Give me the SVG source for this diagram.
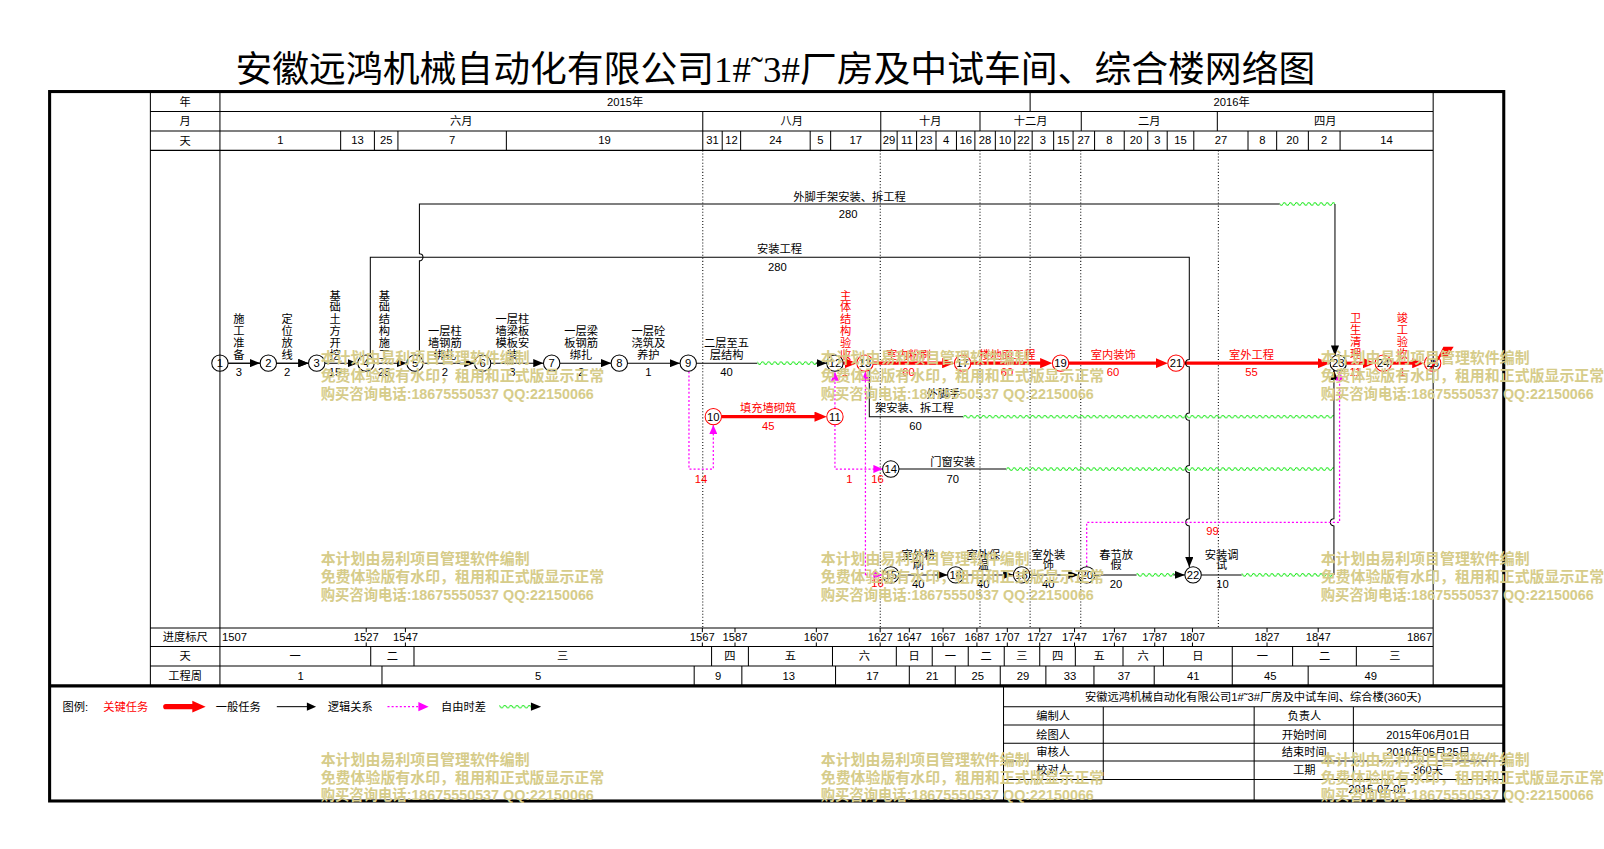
<svg xmlns="http://www.w3.org/2000/svg" width="1604" height="849" viewBox="0 0 1604 849">
<defs>
<style>
text{font-family:"Liberation Sans","Noto Sans CJK SC",sans-serif;font-size:11px;fill:#000;text-anchor:middle}
.s{font-size:10.5px}
.r{fill:#f00}
.st{text-anchor:start}
.ttl{font-family:"Liberation Serif","Noto Sans CJK SC",serif;font-size:36px}
.wm{font-size:14.6px;font-weight:bold;fill:#d6cc8a;text-anchor:start}
.g{stroke:#000;stroke-width:1;fill:none}
.fr{stroke:#000;stroke-width:3;fill:none}
.dt{stroke:#000;stroke-width:1;stroke-dasharray:1 2;fill:none}
.bk{stroke:#000;stroke-width:1;fill:none}
.cr{stroke:#f00;stroke-width:3;fill:none}
.ff{stroke:#f0f;stroke-width:1.2;stroke-dasharray:2 2;fill:none}
.nb{fill:none;stroke:#000;stroke-width:1}
.nr{fill:none;stroke:#f00;stroke-width:1}
.wv{fill:url(#wv)}
</style>
<marker id="ab" viewBox="0 0 10 8" refX="10" refY="4" markerWidth="10" markerHeight="8" markerUnits="userSpaceOnUse" orient="auto"><path d="M0,0L10,4L0,8z" fill="#000"/></marker>
<marker id="ar" viewBox="0 0 12 10" refX="6" refY="5" markerWidth="12" markerHeight="10" markerUnits="userSpaceOnUse" orient="auto"><path d="M0,0L12,5L0,10z" fill="#f00"/></marker>
<marker id="am" viewBox="0 0 9 8" refX="9" refY="4" markerWidth="9" markerHeight="8" markerUnits="userSpaceOnUse" orient="auto"><path d="M0,0L9,4L0,8z" fill="#f0f"/></marker>
<pattern id="wv" patternUnits="userSpaceOnUse" x="0" y="-2.5" width="6" height="5"><path d="M0,2.5Q1.5,0 3,2.5T6,2.5" fill="none" stroke="#00e600" stroke-width="1"/></pattern>
</defs>
<rect width="1604" height="849" fill="#fff"/>
<g transform="scale(1.02296)">
<text class="ttl" x="758" y="80">安徽远鸿机械自动化有限公司1#˜3#厂房及中试车间、综合楼网络图</text>

<g id="timescale">
<path class="g" d="M147,109H1401M147,128H1401M147,147H1401M147,614H1401M147,632H1401M147,651H1401M147,91V670M215,91V670M1401,91V670M1007,91V109M687,109V128M861,109V128M958,109V128M1057,109V128M1190,109V128"/>
<path class="g" d="M333,128V147M366,128V147M389,128V147M495,128V147M687,128V147M706,128V147M724,128V147M792,128V147M812,128V147M861,128V147M877,128V147M896,128V147M915,128V147M935,128V147M953,128V147M973,128V147M992,128V147M1009,128V147M1030,128V147M1049,128V147M1070,128V147M1099,128V147M1122,128V147M1141,128V147M1167,128V147M1220,128V147M1248,128V147M1279,128V147M1310,128V147"/>
<path class="g" d="M362.4,632V651M404.7,632V651M695.6,632V651M731.6,632V651M813.8,632V651M876.2,632V651M911.3,632V651M946.5,632V651M981.7,632V651M1016.4,632V651M1051.2,632V651M1097.8,632V651M1137.3,632V651M1204.6,632V651M1263.6,632V651M1325.9,632V651"/>
<path class="g" d="M373.4,651V670M678.6,651V670M725.2,651V670M816.8,651V670M888.9,651V670M933.8,651V670M977.8,651V670M1022.4,651V670M1069.4,651V670M1128.3,651V670M1204.6,651V670M1278.8,651V670"/>
<path class="g" d="M358,614v4M358,628v4M396.3,614v4M396.3,628v4M686.6,614v4M686.6,628v4M718.5,614v4M718.5,628v4M798,614v4M798,628v4M860.4,614v4M860.4,628v4M888.9,614v4M888.9,628v4M921.9,614v4M921.9,628v4M955,614v4M955,628v4M984.7,614v4M984.7,628v4M1016.4,614v4M1016.4,628v4M1050.4,614v4M1050.4,628v4M1089.4,614v4M1089.4,628v4M1128.8,614v4M1128.8,628v4M1165.7,614v4M1165.7,628v4M1238.6,614v4M1238.6,628v4M1288.6,614v4M1288.6,628v4"/>
<path class="dt" d="M687,147V614M860.5,147V614M958,147V614M1007,147V614M1056.5,147V614M1191,147V614"/>
<g class="s">
<text x="181" y="104">年</text><text x="181" y="122.5">月</text><text x="181" y="141.5">天</text>
<text x="611" y="104">2015年</text><text x="1204" y="104">2016年</text>
<text x="451" y="122.5">六月</text><text x="774" y="122.5">八月</text><text x="909.5" y="122.5">十月</text><text x="1007.5" y="122.5">十二月</text><text x="1123.5" y="122.5">二月</text><text x="1295.5" y="122.5">四月</text>
<text x="274" y="141">1</text><text x="349.5" y="141">13</text><text x="377.5" y="141">25</text><text x="442" y="141">7</text><text x="591" y="141">19</text><text x="696.5" y="141">31</text><text x="715" y="141">12</text><text x="758" y="141">24</text><text x="802" y="141">5</text><text x="836.5" y="141">17</text><text x="869" y="141">29</text><text x="886.5" y="141">11</text><text x="905.5" y="141">23</text><text x="925" y="141">4</text><text x="944" y="141">16</text><text x="963" y="141">28</text><text x="982.5" y="141">10</text><text x="1000.5" y="141">22</text><text x="1019.5" y="141">3</text><text x="1039.5" y="141">15</text><text x="1059.5" y="141">27</text><text x="1084.5" y="141">8</text><text x="1110.5" y="141">20</text><text x="1131.5" y="141">3</text><text x="1154" y="141">15</text><text x="1193.5" y="141">27</text><text x="1234" y="141">8</text><text x="1263.5" y="141">20</text><text x="1294.5" y="141">2</text><text x="1355.5" y="141">14</text>
<text x="181" y="627">进度标尺</text><text x="181" y="645.5">天</text><text x="181" y="664.5">工程周</text>
<text class="st" x="217" y="626.5">1507</text><text x="358" y="626.5">1527</text><text x="396.3" y="626.5">1547</text><text x="686.6" y="626.5">1567</text><text x="718.5" y="626.5">1587</text><text x="798" y="626.5">1607</text><text x="860.4" y="626.5">1627</text><text x="888.9" y="626.5">1647</text><text x="921.9" y="626.5">1667</text><text x="955" y="626.5">1687</text><text x="984.7" y="626.5">1707</text><text x="1016.4" y="626.5">1727</text><text x="1050.4" y="626.5">1747</text><text x="1089.4" y="626.5">1767</text><text x="1128.8" y="626.5">1787</text><text x="1165.7" y="626.5">1807</text><text x="1238.6" y="626.5">1827</text><text x="1288.6" y="626.5">1847</text><text x="1400" y="626.5" style="text-anchor:end">1867</text>
<text x="288.5" y="645.5">一</text><text x="383.5" y="645.5">二</text><text x="550" y="645.5">三</text><text x="713.6" y="645.5">四</text><text x="772.7" y="645.5">五</text><text x="845" y="645.5">六</text><text x="893.7" y="645.5">日</text><text x="929" y="645.5">一</text><text x="964" y="645.5">二</text><text x="999" y="645.5">三</text><text x="1033.8" y="645.5">四</text><text x="1074.5" y="645.5">五</text><text x="1117.5" y="645.5">六</text><text x="1171" y="645.5">日</text><text x="1234" y="645.5">一</text><text x="1294.8" y="645.5">二</text><text x="1363.5" y="645.5">三</text>
<text x="294" y="664.5">1</text><text x="526" y="664.5">5</text><text x="702" y="664.5">9</text><text x="771" y="664.5">13</text><text x="853" y="664.5">17</text><text x="911.4" y="664.5">21</text><text x="955.8" y="664.5">25</text><text x="1000" y="664.5">29</text><text x="1046" y="664.5">33</text><text x="1098.8" y="664.5">37</text><text x="1166.5" y="664.5">41</text><text x="1241.7" y="664.5">45</text><text x="1340" y="664.5">49</text>
</g>
</g>

<g id="frame">
<rect class="fr" x="48.5" y="89.5" width="1421.5" height="693.5"/>
<path class="fr" d="M48.5,670.5H1470"/>
</g>

<g id="connectors">
<path class="bk" marker-end="url(#ab)" d="M223,355H254.3M270.3,355H301.6"/>
<path class="bk" marker-end="url(#ab)" d="M223,355H254.3"/>
<path class="bk" marker-end="url(#ab)" d="M270.3,355H301.6"/>
<path class="bk" marker-end="url(#ab)" d="M317.6,355H349.8"/>
<path class="bk" marker-end="url(#ab)" d="M365.8,355H397.7"/>
<path class="bk" marker-end="url(#ab)" d="M413.7,355H463.8"/>
<path class="bk" marker-end="url(#ab)" d="M479.8,355H531.3"/>
<path class="bk" marker-end="url(#ab)" d="M547.3,355H597.4"/>
<path class="bk" marker-end="url(#ab)" d="M613.4,355H664.8"/>
<path class="bk" d="M680.8,355H740.3"/>
<g transform="translate(0,355)"><rect class="wv" x="740.3" y="-2.5" width="58" height="5"/></g>
<path class="bk" marker-end="url(#ab)" d="M797.5,355H808.2"/>
<path class="cr" marker-end="url(#ar)" d="M824.2,355H831.6"/>
<path class="cr" marker-end="url(#ar)" d="M853.6,355H927"/>
<path class="cr" marker-end="url(#ar)" d="M949,355H1022.8"/>
<path class="cr" marker-end="url(#ar)" d="M1044.8,355H1135.6"/>
<path class="cr" marker-end="url(#ar)" d="M1157.6,355H1294.2"/>
<path class="cr" marker-end="url(#ar)" d="M1316.2,355H1338.2"/>
<path class="cr" marker-end="url(#ar)" d="M1360.2,355H1386.5"/>
<path class="cr" marker-end="url(#ar)" d="M705.3,407.3H802.2"/>
<path class="bk" marker-end="url(#ab)" d="M362,348.2V251.5H1162.6V351.5A3.5,3.5 0 0 0 1162.6,358.5V403.8A3.5,3.5 0 0 0 1162.6,410.8V455A3.5,3.5 0 0 0 1162.6,462V507.1A3.5,3.5 0 0 0 1162.6,514.1V554.5"/>
<path class="bk" d="M410,348.3V255A3.5,3.5 0 0 0 410,248V199.4H1251"/>
<g transform="translate(0,199.4)"><rect class="wv" x="1251" y="-2.5" width="54" height="5"/></g>
<path class="bk" marker-end="url(#ab)" d="M1305,199.4V347.7"/>
<path class="bk" d="M849.8,361.8V407.3H941.5"/>
<g transform="translate(0,407.3)"><rect class="wv" x="941.5" y="-2.5" width="362.5" height="5"/></g>
<path class="bk" d="M878.8,458.5H983.7"/>
<g transform="translate(0,458.5)"><rect class="wv" x="983.7" y="-2.5" width="320.3" height="5"/></g>
<path class="bk" marker-end="url(#ab)" d="M878.8,562H926.3"/>
<path class="bk" marker-end="url(#ab)" d="M942.3,562H990.7"/>
<path class="bk" marker-end="url(#ab)" d="M1006.7,562H1054.3"/>
<path class="bk" d="M1070.3,562H1111"/>
<g transform="translate(0,562)"><rect class="wv" x="1111" y="-2.5" width="37" height="5"/></g>
<path class="bk" marker-end="url(#ab)" d="M1147,562H1158.3"/>
<path class="bk" d="M1174.3,562H1213.8"/>
<g transform="translate(0,562)"><rect class="wv" x="1213.8" y="-2.5" width="90.2" height="5"/></g>
<path class="bk" marker-end="url(#ab)" d="M1304,562V514.1A3.5,3.5 0 0 1 1304,507.1V361.8"/>
<path class="ff" marker-end="url(#am)" d="M673.5,363V458.5H697.3V415.5"/>
<path class="ff" marker-end="url(#am)" d="M816.2,399.3V363.2"/>
<path class="ff" marker-end="url(#am)" d="M816.2,415.3V458.5H862.8"/>
<path class="ff" marker-end="url(#am)" d="M846,562V363.2"/>
<path class="ff" marker-end="url(#am)" d="M846,562H862.8"/>
<path class="ff" marker-end="url(#am)" d="M1062.3,554V510.6H1309.5V363"/>
<path fill="#f00" d="M1406,348.7L1411,339H1421L1415,348.7z"/>
<path stroke="#f00" stroke-width="2" d="M1398,361L1410,345"/>
</g>

<g id="nodes" class="s">
<g id="node-1"><circle class="nb" cx="215" cy="355" r="8"/><text x="215" y="358.8">1</text></g>
<g id="node-2"><circle class="nb" cx="262.3" cy="355" r="8"/><text x="262.3" y="358.8">2</text></g>
<g id="node-3"><circle class="nb" cx="309.6" cy="355" r="8"/><text x="309.6" y="358.8">3</text></g>
<g id="node-4"><circle class="nb" cx="357.8" cy="355" r="8"/><text x="357.8" y="358.8">4</text></g>
<g id="node-5"><circle class="nb" cx="405.7" cy="355" r="8"/><text x="405.7" y="358.8">5</text></g>
<g id="node-6"><circle class="nb" cx="471.8" cy="355" r="8"/><text x="471.8" y="358.8">6</text></g>
<g id="node-7"><circle class="nb" cx="539.3" cy="355" r="8"/><text x="539.3" y="358.8">7</text></g>
<g id="node-8"><circle class="nb" cx="605.4" cy="355" r="8"/><text x="605.4" y="358.8">8</text></g>
<g id="node-9"><circle class="nb" cx="672.8" cy="355" r="8"/><text x="672.8" y="358.8">9</text></g>
<g id="node-10"><circle class="nr" cx="697.3" cy="407.3" r="8"/><text x="697.3" y="411.1">10</text></g>
<g id="node-11"><circle class="nr" cx="816.2" cy="407.3" r="8"/><text x="816.2" y="411.1">11</text></g>
<g id="node-12"><circle class="nb" cx="816.2" cy="355" r="8"/><text x="816.2" y="358.8">12</text></g>
<g id="node-13"><circle class="nr" cx="845.6" cy="355" r="8"/><text x="845.6" y="358.8">13</text></g>
<g id="node-14"><circle class="nb" cx="870.8" cy="458.5" r="8"/><text x="870.8" y="462.3">14</text></g>
<g id="node-15"><circle class="nb" cx="870.8" cy="562" r="8"/><text x="870.8" y="565.8">15</text></g>
<g id="node-16"><circle class="nb" cx="934.3" cy="562" r="8"/><text x="934.3" y="565.8">16</text></g>
<g id="node-17"><circle class="nr" cx="941" cy="355" r="8"/><text x="941" y="358.8">17</text></g>
<g id="node-18"><circle class="nb" cx="998.7" cy="562" r="8"/><text x="998.7" y="565.8">18</text></g>
<g id="node-19"><circle class="nr" cx="1036.8" cy="355" r="8"/><text x="1036.8" y="358.8">19</text></g>
<g id="node-20"><circle class="nb" cx="1062.3" cy="562" r="8"/><text x="1062.3" y="565.8">20</text></g>
<g id="node-21"><circle class="nr" cx="1149.6" cy="355" r="8"/><text x="1149.6" y="358.8">21</text></g>
<g id="node-22"><circle class="nb" cx="1166.3" cy="562" r="8"/><text x="1166.3" y="565.8">22</text></g>
<g id="node-23"><circle class="nb" cx="1308.2" cy="355" r="8"/><text x="1308.2" y="358.8">23</text></g>
<g id="node-24"><circle class="nr" cx="1352.2" cy="355" r="8"/><text x="1352.2" y="358.8">24</text></g>
<g id="node-25"><circle class="nr" cx="1400.5" cy="355" r="8"/><text x="1400.5" y="358.8">25</text></g>
</g>

<g id="labels">
<text x="233.6"><tspan x="233.6" y="316">施</tspan><tspan x="233.6" y="327.5">工</tspan><tspan x="233.6" y="339">准</tspan><tspan x="233.6" y="350.5">备</tspan></text>
<text x="280.6"><tspan x="280.6" y="316">定</tspan><tspan x="280.6" y="327.5">位</tspan><tspan x="280.6" y="339">放</tspan><tspan x="280.6" y="350.5">线</tspan></text>
<text x="327.5"><tspan x="327.5" y="293">基</tspan><tspan x="327.5" y="304.5">础</tspan><tspan x="327.5" y="316">土</tspan><tspan x="327.5" y="327.5">方</tspan><tspan x="327.5" y="339">开</tspan><tspan x="327.5" y="350.5">挖</tspan></text>
<text x="375.7"><tspan x="375.7" y="293">基</tspan><tspan x="375.7" y="304.5">础</tspan><tspan x="375.7" y="316">结</tspan><tspan x="375.7" y="327.5">构</tspan><tspan x="375.7" y="339">施</tspan><tspan x="375.7" y="350.5">工</tspan></text>
<text x="435"><tspan x="435" y="327.5">一层柱</tspan><tspan x="435" y="339">墙钢筋</tspan><tspan x="435" y="350.5">绑扎</tspan></text>
<text x="500.8"><tspan x="500.8" y="316">一层柱</tspan><tspan x="500.8" y="327.5">墙梁板</tspan><tspan x="500.8" y="339">模板安</tspan><tspan x="500.8" y="350.5">装</tspan></text>
<text x="568"><tspan x="568" y="327.5">一层梁</tspan><tspan x="568" y="339">板钢筋</tspan><tspan x="568" y="350.5">绑扎</tspan></text>
<text x="633.8"><tspan x="633.8" y="327.5">一层砼</tspan><tspan x="633.8" y="339">浇筑及</tspan><tspan x="633.8" y="350.5">养护</tspan></text>
<text x="710.3"><tspan x="710.3" y="339.5">二层至五</tspan><tspan x="710.3" y="351">层结构</tspan></text>
<g class="s">
<text x="233.6" y="368">3</text><text x="280.6" y="368">2</text><text x="327.5" y="368">15</text><text x="375.7" y="368">25</text><text x="435" y="368">2</text><text x="500.8" y="368">3</text><text x="568" y="368">2</text><text x="633.8" y="368">1</text><text x="710.3" y="368">40</text>
<text x="895" y="420">60</text><text x="931.4" y="472.3">70</text>
<text x="897.7" y="575">40</text><text x="961.3" y="575">40</text><text x="1024.8" y="575">40</text><text x="1091" y="575">20</text><text x="1195" y="575">10</text>
<text x="829" y="212.7">280</text><text x="760" y="264.7">280</text>
<text class="r" x="826" y="368">1</text><text class="r" x="888" y="368">60</text><text class="r" x="984.5" y="368">60</text><text class="r" x="1088" y="368">60</text><text class="r" x="1223.5" y="368">55</text><text class="r" x="1325" y="368">11</text><text class="r" x="1371" y="368">1</text><text class="r" x="751" y="420">45</text>
<text class="r" x="685.3" y="472.2">14</text><text class="r" x="830.3" y="472.2">1</text><text class="r" x="857.7" y="472.2">16</text><text class="r" x="857.7" y="574">16</text><text class="r" x="1185.4" y="523.4">99</text>
</g>
<text class="r" x="826.7"><tspan x="826.7" y="293">主</tspan><tspan x="826.7" y="304.5">体</tspan><tspan x="826.7" y="316">结</tspan><tspan x="826.7" y="327.5">构</tspan><tspan x="826.7" y="339">验</tspan><tspan x="826.7" y="350.5">收</tspan></text>
<text class="r" x="888" y="350.5">室内粉刷</text>
<text class="r" x="984.7" y="350.5">楼地面工程</text>
<text class="r" x="1088.3" y="350.5">室内装饰</text>
<text class="r" x="1223.5" y="350.5">室外工程</text>
<text class="r" x="751" y="402.7">填充墙砌筑</text>
<text class="r" x="1325.2"><tspan x="1325.2" y="315">卫</tspan><tspan x="1325.2" y="326.5">生</tspan><tspan x="1325.2" y="338">清</tspan><tspan x="1325.2" y="349.5">理</tspan></text>
<text class="r" x="1370.8"><tspan x="1370.8" y="315">竣</tspan><tspan x="1370.8" y="326.5">工</tspan><tspan x="1370.8" y="338">验</tspan><tspan x="1370.8" y="349.5">收</tspan></text>
<text class="st" x="905.8" y="388.7">外脚手</text>
<text class="st" x="855.3" y="402.7">架安装、拆工程</text>
<text x="931.4" y="455.5">门窗安装</text>
<text x="897.7"><tspan x="897.7" y="546.7">室外粉</tspan><tspan x="897.7" y="556.5">刷</tspan></text>
<text x="961.3"><tspan x="961.3" y="546.7">室外保</tspan><tspan x="961.3" y="556.5">温</tspan></text>
<text x="1024.8"><tspan x="1024.8" y="546.7">室外装</tspan><tspan x="1024.8" y="556.5">饰</tspan></text>
<text x="1091"><tspan x="1091" y="546.7">春节放</tspan><tspan x="1091" y="556.5">假</tspan></text>
<text x="1194.3"><tspan x="1194.3" y="546.7">安装调</tspan><tspan x="1194.3" y="556.5">试</tspan></text>
<text x="830.5" y="196">外脚手架安装、拆工程</text>
<text x="762" y="247.7">安装工程</text>
</g>

<g id="legend">
<text class="st" x="61" y="695">图例:</text>
<text class="st r" x="101" y="695">关键任务</text>
<path d="M162,690.8H190" stroke="#f00" stroke-width="5" stroke-linecap="round"/>
<path d="M188,685L201,690.8L188,696.6z" fill="#f00"/>
<text class="st" x="211" y="695">一般任务</text>
<path class="bk" d="M270.6,690.8H301"/>
<path d="M300,686.8L309,690.8L300,694.8z" fill="#000"/>
<text class="st" x="320.5" y="695">逻辑关系</text>
<path class="ff" d="M378.8,690.8H409"/>
<path d="M409,686.3L419,690.8L409,695.3z" fill="#f0f"/>
<text class="st" x="431" y="695">自由时差</text>
<g transform="translate(0,690.8)"><rect class="wv" x="488" y="-2.5" width="31" height="5"/></g>
<path d="M519,686.8L529,690.8L519,694.8z" fill="#000"/>
</g>

<g id="titleblock">
<path class="g" d="M981,671V783M981,690.8H1470M981,708.7H1470M981,726.6H1470M981,744H1470M981,762H1470M1078.5,690.8V762M1226,690.8V783M1323,690.8V762"/>
<text x="1225" y="685">安徽远鸿机械自动化有限公司1#˜3#厂房及中试车间、综合楼(360天)</text>
<text x="1029.5" y="704">编制人</text><text x="1275" y="704">负责人</text>
<text x="1029.5" y="722">绘图人</text><text x="1275" y="722">开始时间</text><text x="1396" y="722">2015年06月01日</text>
<text x="1029.5" y="739.5">审核人</text><text x="1275" y="739.5">结束时间</text><text x="1396" y="739.5">2016年05月25日</text>
<text x="1029.5" y="757">校对人</text><text x="1275" y="757">工期</text><text x="1396" y="757">360天</text>
<text x="1346" y="775">2015-07-05</text>
</g>

<g id="watermarks" class="wm">
<text class="wm" x="313.5" y="355">本计划由易利项目管理软件编制</text>
<text class="wm" x="313.5" y="372.5">免费体验版有水印，租用和正式版显示正常</text>
<text class="wm" x="313.5" y="390" textLength="267" lengthAdjust="spacingAndGlyphs">购买咨询电话:18675550537 QQ:22150066</text>
<text class="wm" x="802.3" y="355">本计划由易利项目管理软件编制</text>
<text class="wm" x="802.3" y="372.5">免费体验版有水印，租用和正式版显示正常</text>
<text class="wm" x="802.3" y="390" textLength="267" lengthAdjust="spacingAndGlyphs">购买咨询电话:18675550537 QQ:22150066</text>
<text class="wm" x="1291" y="355">本计划由易利项目管理软件编制</text>
<text class="wm" x="1291" y="372.5">免费体验版有水印，租用和正式版显示正常</text>
<text class="wm" x="1291" y="390" textLength="267" lengthAdjust="spacingAndGlyphs">购买咨询电话:18675550537 QQ:22150066</text>
<text class="wm" x="313.5" y="551">本计划由易利项目管理软件编制</text>
<text class="wm" x="313.5" y="569">免费体验版有水印，租用和正式版显示正常</text>
<text class="wm" x="313.5" y="586.5" textLength="267" lengthAdjust="spacingAndGlyphs">购买咨询电话:18675550537 QQ:22150066</text>
<text class="wm" x="802.3" y="551">本计划由易利项目管理软件编制</text>
<text class="wm" x="802.3" y="569">免费体验版有水印，租用和正式版显示正常</text>
<text class="wm" x="802.3" y="586.5" textLength="267" lengthAdjust="spacingAndGlyphs">购买咨询电话:18675550537 QQ:22150066</text>
<text class="wm" x="1291" y="551">本计划由易利项目管理软件编制</text>
<text class="wm" x="1291" y="569">免费体验版有水印，租用和正式版显示正常</text>
<text class="wm" x="1291" y="586.5" textLength="267" lengthAdjust="spacingAndGlyphs">购买咨询电话:18675550537 QQ:22150066</text>
<text class="wm" x="313.5" y="747.5">本计划由易利项目管理软件编制</text>
<text class="wm" x="313.5" y="765">免费体验版有水印，租用和正式版显示正常</text>
<text class="wm" x="313.5" y="782" textLength="267" lengthAdjust="spacingAndGlyphs">购买咨询电话:18675550537 QQ:22150066</text>
<text class="wm" x="802.3" y="747.5">本计划由易利项目管理软件编制</text>
<text class="wm" x="802.3" y="765">免费体验版有水印，租用和正式版显示正常</text>
<text class="wm" x="802.3" y="782" textLength="267" lengthAdjust="spacingAndGlyphs">购买咨询电话:18675550537 QQ:22150066</text>
<text class="wm" x="1291" y="747.5">本计划由易利项目管理软件编制</text>
<text class="wm" x="1291" y="765">免费体验版有水印，租用和正式版显示正常</text>
<text class="wm" x="1291" y="782" textLength="267" lengthAdjust="spacingAndGlyphs">购买咨询电话:18675550537 QQ:22150066</text>
</g>
</g>
</svg>
